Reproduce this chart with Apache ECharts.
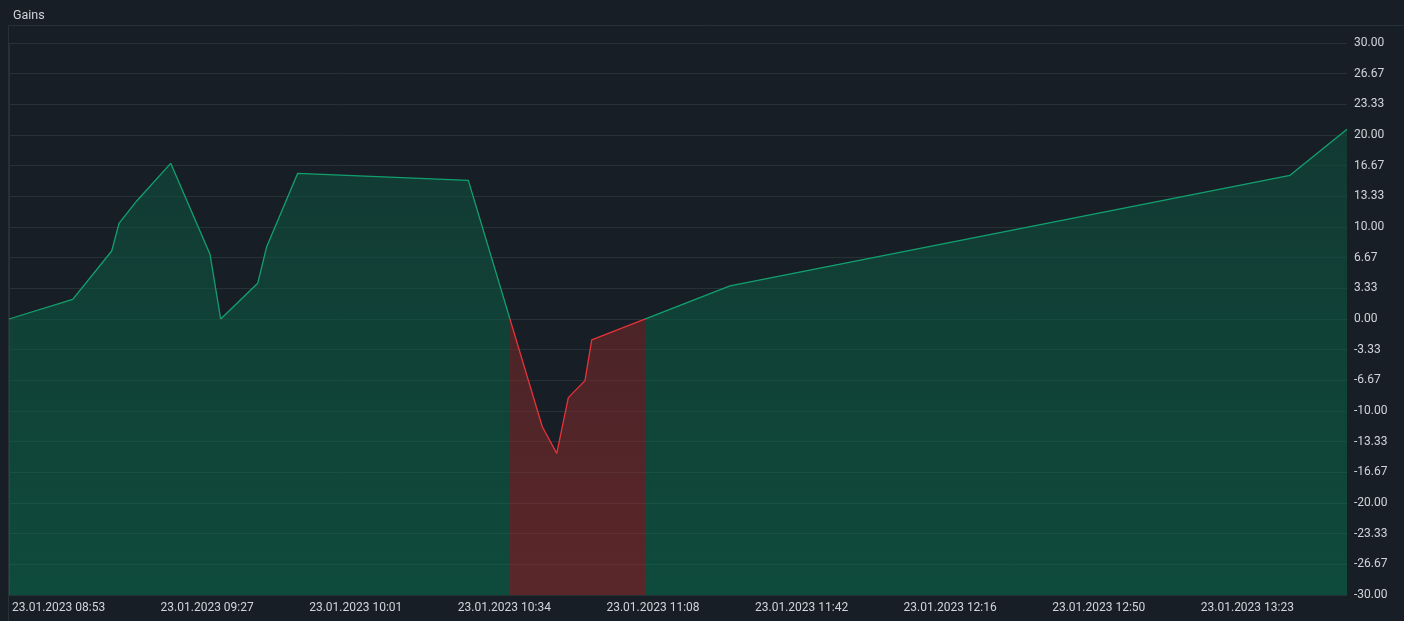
<!DOCTYPE html>
<html>
<head>
<meta charset="utf-8">
<script src="https://cdn.jsdelivr.net/npm/echarts@6/dist/echarts.min.js"></script>
<style>
html,body{margin:0;padding:0;background:#181e25;}
#c{width:1404px;height:621px;}
</style>
</head>
<body>
<div id="c"></div>
<script>
// ---- data (x = minutes after 23.01.2023 08:53) ----
const chartTitle = 'Gains';
const minutes = [0, 14.49, 23.36, 25.02, 29.05, 36.78, 45.72, 48.15, 56.57, 58.61, 65.67, 104.47, 121.30, 124.58, 127.22, 131.01, 132.54, 163.99, 291.37, 304.33];
const gains   = [0, 2.14, 7.39, 10.40, 12.83, 16.92, 7.03, 0, 3.88, 7.86, 15.83, 15.07, -11.71, -14.60, -8.55, -6.70, -2.28, 3.59, 15.62, 20.62];
const xTickStep = 33.8;
const xTickLabels = ['23.01.2023 08:53', '23.01.2023 09:27', '23.01.2023 10:01', '23.01.2023 10:34', '23.01.2023 11:08', '23.01.2023 11:42', '23.01.2023 12:16', '23.01.2023 12:50', '23.01.2023 13:23'];
const yMin = -30, yMax = 30, yStep = 60 / 18;

// ---- styling ----
const BG = '#181e25';
const GRID = '#263236';
const TXT = '#d1d4dc';
const LINE_UP = '#10a06e', LINE_DN = '#e63237';
const FILL_UP = 'rgba(0,142,94,0.4)', FILL_DN = 'rgba(191,50,47,0.4)';

const seriesData = minutes.map((m, i) => [m, gains[i]]);

// x positions where the line changes sign (for splitting the fill colour)
const crossings = [];
for (let i = 0; i < gains.length - 1; i++) {
  const a = gains[i], b = gains[i + 1];
  if (a !== 0 && b !== 0 && (a < 0) !== (b < 0)) {
    crossings.push(minutes[i] + (minutes[i + 1] - minutes[i]) * a / (a - b));
  }
}
const firstSignPositive = gains.find(v => v !== 0) > 0;
const fillPieces = [];
let pos = firstSignPositive;
for (let i = 0; i <= crossings.length; i++) {
  const piece = { color: pos ? FILL_UP : FILL_DN };
  piece.gte = i > 0 ? crossings[i - 1] : -10000;
  piece.lt = i < crossings.length ? crossings[i] : 10000;
  fillPieces.push(piece);
  pos = !pos;
}

const chart = echarts.init(document.getElementById('c'), null, { renderer: 'canvas' });
const option = {
  backgroundColor: BG,
  animation: false,
  title: {
    text: chartTitle, left: 8, top: 4,
    textStyle: { color: TXT, fontSize: 12.5, fontWeight: 'normal', fontFamily: 'Roboto' }
  },
  grid: { left: 9, right: 57, top: 43, bottom: 26, containLabel: false, outerBoundsMode: 'none' },
  xAxis: {
    type: 'value', min: 0, max: minutes[minutes.length - 1], interval: xTickStep,
    axisLine: { show: true, lineStyle: { color: GRID } },
    axisTick: { show: false },
    splitLine: { show: false },
    axisLabel: {
      color: TXT, fontSize: 12, fontFamily: 'Roboto', align: 'left', margin: 7,
      padding: [0, 0, 0, 3], showMaxLabel: false,
      formatter: v => {
        const k = Math.round(v / xTickStep);
        if (Math.abs(v / xTickStep - k) > 0.01) return '';
        return xTickLabels[k] || '';
      }
    }
  },
  yAxis: {
    type: 'value', position: 'right', min: yMin, max: yMax, interval: yStep,
    axisLine: { show: true, lineStyle: { color: GRID } },
    axisTick: { show: true, length: 4, lineStyle: { color: GRID } },
    splitLine: { show: true, lineStyle: { color: GRID, width: 1 } },
    axisLabel: {
      color: TXT, fontSize: 12, fontFamily: 'Roboto', margin: 7,
      formatter: v => (Math.abs(v) < 1e-9 ? 0 : v).toFixed(2)
    }
  },
  visualMap: [
    { type: 'piecewise', show: false, seriesIndex: 0, dimension: 0, pieces: fillPieces },
    { type: 'piecewise', show: false, seriesIndex: 2, dimension: 1,
      pieces: [{ gte: -10000, lt: 0, color: LINE_DN }, { gte: 0, lte: 10000, color: LINE_UP }] }
  ],
  series: [
    {
      name: 'fill', type: 'line', data: seriesData, symbol: 'none', silent: true,
      lineStyle: { width: 0 }, areaStyle: { opacity: 1, origin: 'start' }, z: 1
    },
    {
      name: 'shade', type: 'line', data: seriesData, symbol: 'none', silent: true,
      lineStyle: { width: 0 },
      areaStyle: {
        origin: 'start',
        color: new echarts.graphic.LinearGradient(0, 43, 0, 595, [
          { offset: 0, color: 'rgba(24,30,37,0.66)' },
          { offset: 1, color: 'rgba(24,30,37,0)' }
        ], true)
      },
      z: 2
    },
    {
      name: chartTitle, type: 'line', data: seriesData, symbol: 'none', silent: true,
      lineStyle: { width: 1.3 }, z: 3
    }
  ],
  graphic: [
    { type: 'line', silent: true, shape: { x1: 8.5, y1: 25.5, x2: 1404, y2: 25.5 }, style: { stroke: GRID, lineWidth: 1 }, z: 10 },
    { type: 'line', silent: true, shape: { x1: 8.5, y1: 25.5, x2: 8.5, y2: 621 }, style: { stroke: GRID, lineWidth: 1 }, z: 10 }
  ]
};
chart.setOption(option);
</script>
</body>
</html>
